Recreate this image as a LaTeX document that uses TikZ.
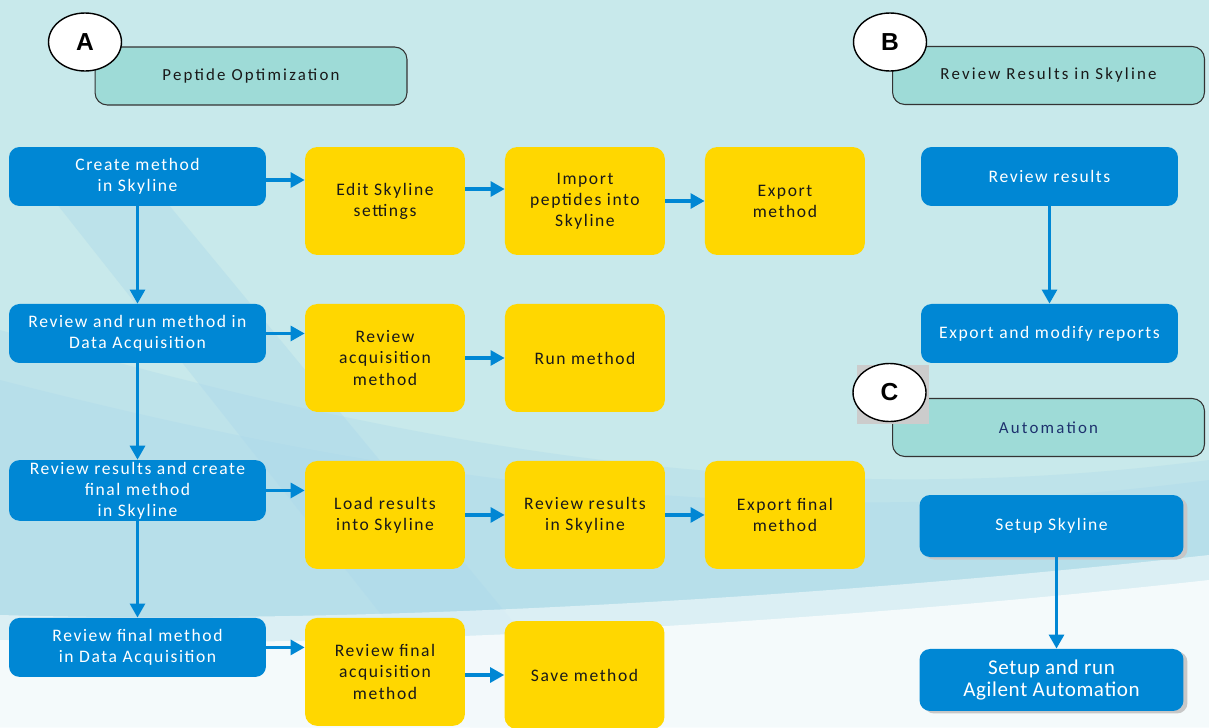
\documentclass[tikz,border=0pt]{standalone}
\usepackage{fontspec}
\setmainfont{Carlito}[LetterSpace=9]
\newfontfamily\headfont{Carlito}[LetterSpace=13]
\newfontfamily\bigfont{Carlito}[LetterSpace=3]
\newfontfamily\badgefont{Liberation Sans}
\usepackage{tikz}
\usetikzlibrary{arrows.meta, shapes.geometric, shadows}

\definecolor{boxblue}{RGB}{0,135,212}
\definecolor{boxyellow}{RGB}{255,215,0}
\definecolor{headteal}{RGB}{158,219,215}
\definecolor{bgteal}{RGB}{200,233,235}
\definecolor{bglight}{RGB}{172,216,234}
\definecolor{textdark}{RGB}{25,25,25}
\definecolor{textnavy}{RGB}{30,50,110}

\begin{document}
\begin{tikzpicture}[x=0.02cm,y=-0.02cm,>={Triangle[length=8pt,width=8.5pt]},node distance=4cm]
\tikzstyle{bluebox}=[rectangle,rounded corners=6pt,fill=boxblue,text=white,align=center,
                     minimum width=5.14cm,minimum height=1.18cm,inner sep=1pt,
                     font=\fontsize{10}{12}\selectfont]
\tikzstyle{yellowbox}=[rectangle,rounded corners=7pt,fill=boxyellow,text=textdark,align=center,
                       minimum width=3.2cm,minimum height=2.16cm,inner sep=1pt,
                       font=\fontsize{10}{12}\selectfont]
\tikzstyle{header}=[rectangle,rounded corners=7pt,fill=headteal,draw=black!80,line width=0.6pt,
                    minimum width=6.24cm,minimum height=1.16cm,text=textdark,
                    font=\headfont\fontsize{9.6}{11}\selectfont]
\tikzstyle{badge}=[ellipse,fill=white,draw=black,line width=0.8pt,inner sep=0pt,
                   minimum width=1.46cm,minimum height=1.16cm,
                   font=\badgefont\bfseries\fontsize{14}{14}\selectfont]
\tikzstyle{wide}=[minimum width=5.28cm,minimum height=1.24cm]
\tikzstyle{shadowed}=[drop shadow={shadow xshift=0.08cm,shadow yshift=-0.05cm,fill=black!22,opacity=1}]
\tikzstyle{flow}=[draw=boxblue,line width=1.8pt,-{Triangle[length=8pt,width=8.5pt]}]

  % background
  \useasboundingbox (0,0) rectangle (1209,727);
  \fill[bgteal] (0,0) rectangle (1209,727);
  \fill[bglight,opacity=0.35] (0,330) .. controls (350,430) and (750,520) .. (1209,460) -- (1209,727) -- (0,727) -- cycle;
  \fill[bglight,opacity=0.35] (0,380) .. controls (350,470) and (750,540) .. (1209,480) -- (1209,727) -- (0,727) -- cycle;
  \fill[bglight,opacity=0.4] (30,170) -- (140,170) -- (600,727) -- (470,727) -- cycle;
  \fill[white,opacity=0.5] (0,615) .. controls (350,625) and (800,600) .. (1209,555) -- (1209,727) -- (0,727) -- cycle;
  \fill[white,opacity=0.7] (0,640) .. controls (350,650) and (800,625) .. (1209,580) -- (1209,727) -- (0,727) -- cycle;

  % A: peptide optimization
  \node[bluebox]                                  (create)    at (137.5,176.5) {Create method\\in Skyline};
  \node[bluebox, below of=create, node distance=3.14cm]    (runda)     {Review and run method in\\Data Acquisition};
  \node[bluebox, below of=runda, node distance=3.14cm]     (rescreate) {Review results and create\\final method\\in Skyline};
  \node[bluebox, below of=rescreate, node distance=3.14cm] (finalda)   {Review final method\\in Data Acquisition};

  \node[yellowbox]                                (edit)      at (385,201) {Edit Skyline\\settings};
  \node[yellowbox, right of=edit]                 (import)    {Import\\peptides into\\Skyline};
  \node[yellowbox, right of=import]               (export)    {Export\\method};
  \node[yellowbox, below of=edit, node distance=3.14cm]    (acq)       {Review\\acquisition\\method};
  \node[yellowbox, right of=acq]                  (run)       {Run method};
  \node[yellowbox, below of=acq, node distance=3.14cm]     (load)      {Load results\\into Skyline};
  \node[yellowbox, right of=load]                 (revsky)    {Review results\\in Skyline};
  \node[yellowbox, right of=revsky]               (expfinal)  {Export final\\method};
  \node[yellowbox, below of=load, node distance=3.14cm]    (finalacq)  {Review final\\acquisition\\method};
  \node[yellowbox]                                (save)      at (584.5,675) {Save method};

  \node[header]                                   (hA)        at (251,76) {Peptide Optimization};
  \node[badge]                                    (bA)        at (85,42) {A};

  % B: review results
  \node[bluebox]                                  (revres)    at (1049.5,176.5) {Review results};
  \node[bluebox, below of=revres, node distance=3.14cm]    (report)    {Export and modify reports};

  \node[header]                                   (hB)        at (1048.5,75.5) {Review Results in Skyline};
  \node[badge]                                    (bB)        at (890,42) {B};

  % C: automation
  \node[bluebox, wide, shadowed]                  (setup)     at (1051.5,526) {Setup Skyline};
  \node[bluebox, wide, shadowed, below of=setup, node distance=3.08cm,
        font=\bigfont\fontsize{12}{12.5}\selectfont]        (agilent)   {Setup and run\\Agilent Automation};

  \node[header, text=textnavy]                    (hC)        at (1048.5,427.5) {Automation};
  \fill[black!20] (857,365) rectangle (929,424);
  \node[badge]                                    (bC)        at (889.5,392.5) {C};

  % arrows
  \coordinate (c1) at ([yshift=-0.07cm]create.east);
  \coordinate (c2) at ([yshift=0.24cm]edit.east);
  \coordinate (c3) at ([xshift=0.1cm]setup.south);
  \coordinate (c4) at (c3 |- agilent.north);

  \draw[flow] (create) -- (runda);
  \draw[flow] (runda) -- (rescreate);
  \draw[flow] (rescreate) -- (finalda);
  \draw[flow] (c1) -- (c1 -| edit.west);
  \draw[flow] (c2) -- (c2 -| import.west);
  \draw[flow] (import) -- (export);
  \draw[flow] (runda.east) -- (runda.east -| acq.west);
  \draw[flow] (acq) -- (run);
  \draw[flow] (rescreate.east) -- (rescreate.east -| load.west);
  \draw[flow] (load) -- (revsky);
  \draw[flow] (revsky) -- (expfinal);
  \draw[flow] (finalda.east) -- (finalda.east -| finalacq.west);
  \draw[flow] (save.west -| finalacq.east) -- (save.west);
  \draw[flow] (revres) -- (report);
  \draw[flow] (c3) -- (c4);

\end{tikzpicture}
\end{document}
